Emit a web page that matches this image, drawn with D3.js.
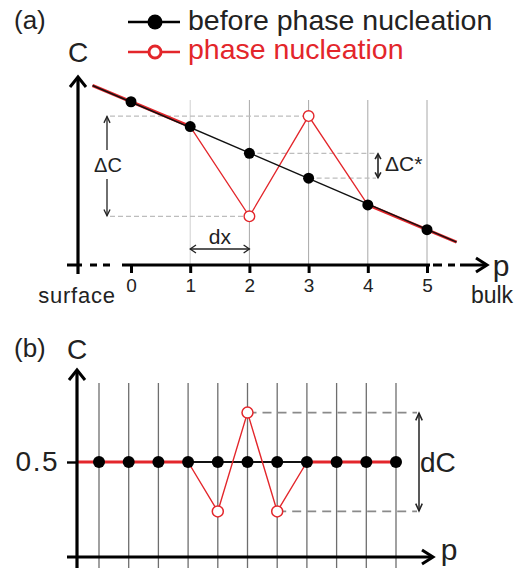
<!DOCTYPE html>
<html lang="en">
<head>
  <meta charset="utf-8" />
  <title>Phase nucleation sketch</title>
  <script type="text/javascript" src="https://cdn.jsdelivr.net/npm/d3@7"></script>
  <style type="text/css">
body { margin: 0; background: white; }
text { font-family: "Liberation Sans", Arial, sans-serif; fill: #222; }
  </style>
</head>
<body>

<script type="text/javascript">

// panel (a): concentration profile from surface to bulk
var pA = [0, 1, 2, 3, 4, 5];
var beforeA = [0.86, 0.73, 0.59, 0.46, 0.32, 0.19];
var lineP = [-0.65, 5.5];          // extent of the straight profile
var lineA = [0.945, 0.125];
var nucP = [-0.65, 1, 2, 3, 4, 5.5];
var nucA = [0.945, 0.73, 0.26, 0.785, 0.32, 0.125];
var openP = [2, 3];                // red open markers
var openA = [0.26, 0.785];

// panel (b): flat profile with one fluctuation
var pB = [0, 1, 2, 3, 4, 5, 6, 7, 8, 9, 10];
var beforeB = [0.5, 0.5, 0.5, 0.5, 0.5, 0.5, 0.5, 0.5, 0.5, 0.5, 0.5];
var nucB = [0.5, 0.5, 0.5, 0.5, 0.24, 0.76, 0.24, 0.5, 0.5, 0.5, 0.5];
var lineB = [-0.74, 10];
var tickB = [0.5];

var legendLabels = ["before phase nucleation", "phase nucleation"];

var w = 523, h = 574;
var red = "#e3262b";

var svg = d3.select("body").append("svg")
    .attr("width", w)
    .attr("height", h);

var xA = d3.scaleLinear().domain([0, 5]).range([131, 427]);
var yA = d3.scaleLinear().domain([0, 1]).range([266, 75]);
var xB = d3.scaleLinear().domain([0, 10]).range([99, 396]);
var yB = d3.scaleLinear().domain([0, 1]).range([557, 367]);

var line = d3.line();

// helper: straight line with open chevron heads
function arrow(g, x1, y1, x2, y2, opt) {
  opt = opt || {};
  var s = opt.size || 6, sw = opt.width || 1.4, col = opt.color || "#222";
  g.append("line").attr("x1", x1).attr("y1", y1).attr("x2", x2).attr("y2", y2)
      .attr("stroke", col).attr("stroke-width", sw);
  var heads = opt.both ? [[x2, y2, x1, y1], [x1, y1, x2, y2]] : [[x1, y1, x2, y2]];
  heads.forEach(function(a) {
    var ang = Math.atan2(a[3] - a[1], a[2] - a[0]);
    var k = opt.spread || 0.75;
    var p1 = [a[2] - s * Math.cos(ang - k), a[3] - s * Math.sin(ang - k)];
    var p2 = [a[2] - s * Math.cos(ang + k), a[3] - s * Math.sin(ang + k)];
    g.append("path").attr("d", line([p1, [a[2], a[3]], p2]))
        .attr("fill", "none").attr("stroke", col).attr("stroke-width", sw)
        .attr("stroke-linejoin", "miter");
  });
}

// ---------- panel (a) ----------
var ga = svg.append("g");

ga.selectAll("line.grid").data(pA.slice(1)).enter().append("line")
    .attr("class", "grid")
    .attr("x1", function(d) { return xA(d); }).attr("x2", function(d) { return xA(d); })
    .attr("y1", 100).attr("y2", 265)
    .attr("stroke", function(d) { return d === 1 ? "#d0d0d0" : "#a8a8a8"; })
    .attr("stroke-width", 1);

// dashed guides
var dashA = { stroke: "#bdbdbd", dash: "5,3" };
[[110, xA(3), yA(openA[1])], [110, xA(2), yA(openA[0])],
 [xA(2), 376, yA(beforeA[2])], [xA(3), 376, yA(beforeA[3])]].forEach(function(d) {
  ga.append("line").attr("x1", d[0]).attr("x2", d[1]).attr("y1", d[2]).attr("y2", d[2])
      .attr("stroke", dashA.stroke).attr("stroke-width", 1.2)
      .attr("stroke-dasharray", dashA.dash);
});

// red profile: thick where it follows the straight line, thin in the zigzag
var nucPts = nucP.map(function(p, i) { return [xA(p), yA(nucA[i])]; });
ga.append("path").attr("d", line(nucPts.slice(0, 2)))
    .attr("fill", "none").attr("stroke", red).attr("stroke-width", 3.2);
ga.append("path").attr("d", line(nucPts.slice(4)))
    .attr("fill", "none").attr("stroke", red).attr("stroke-width", 3.2);
ga.append("path").attr("d", line(nucPts.slice(1, 5)))
    .attr("fill", "none").attr("stroke", red).attr("stroke-width", 1.3);

ga.append("path")
    .attr("d", line(lineP.map(function(p, i) { return [xA(p), yA(lineA[i])]; })))
    .attr("fill", "none").attr("stroke", "#111").attr("stroke-width", 1.4);

ga.selectAll("circle.dot").data(pA).enter().append("circle")
    .attr("class", "dot")
    .attr("cx", function(d) { return xA(d); })
    .attr("cy", function(d, i) { return yA(beforeA[i]); })
    .attr("r", 5.5).attr("fill", "#000");

ga.selectAll("circle.open").data(openP).enter().append("circle")
    .attr("class", "open")
    .attr("cx", function(d) { return xA(d); })
    .attr("cy", function(d, i) { return yA(openA[i]); })
    .attr("r", 5.3).attr("fill", "white").attr("stroke", red).attr("stroke-width", 1.4);

// annotations
arrow(ga, 107, 150, 107, yA(openA[1]) + 0.5, { size: 7, width: 1.3, spread: 0.45 });
arrow(ga, 107, 179, 107, yA(openA[0]) - 0.5, { size: 7, width: 1.3, spread: 0.45 });
ga.append("text").attr("x", 108).attr("y", 172).attr("text-anchor", "middle")
    .attr("font-size", 20).text("\u0394C");

arrow(ga, 378, yA(beforeA[3]) - 0.5, 378, yA(beforeA[2]) + 0.5,
    { size: 6, width: 1.6, spread: 0.5, both: true });
ga.append("text").attr("x", 385).attr("y", 171).attr("font-size", 21).text("\u0394C*");

arrow(ga, xA(1), 249, xA(2), 249, { size: 7, width: 1.3, spread: 0.6, both: true });
ga.append("text").attr("x", (xA(1) + xA(2)) / 2).attr("y", 244).attr("text-anchor", "middle")
    .attr("font-size", 21).text("dx");

// axes
ga.append("line").attr("x1", 78).attr("x2", 78).attr("y1", 274).attr("y2", 77)
    .attr("stroke", "#000").attr("stroke-width", 3.2);
ga.append("path").attr("d", line([[70, 87], [78, 77], [86, 87]]))
    .attr("fill", "none").attr("stroke", "#000").attr("stroke-width", 3);

ga.append("line").attr("x1", 67).attr("x2", 122).attr("y1", 265).attr("y2", 265)
    .attr("stroke", "#000").attr("stroke-width", 3)
    .attr("stroke-dasharray", "15,8,7,6,7,12");
ga.append("line").attr("x1", 122).attr("x2", 430).attr("y1", 265).attr("y2", 265)
    .attr("stroke", "#000").attr("stroke-width", 3);
ga.append("line").attr("x1", 433).attr("x2", 486).attr("y1", 265).attr("y2", 265)
    .attr("stroke", "#000").attr("stroke-width", 3)
    .attr("stroke-dasharray", "9,6,7,5,40");
ga.append("path").attr("d", line([[476, 258], [487, 265], [476, 272]]))
    .attr("fill", "none").attr("stroke", "#000").attr("stroke-width", 3);

var axA = ga.append("g").attr("transform", "translate(0,265)")
    .call(d3.axisBottom(xA).tickValues(pA).tickSize(8).tickPadding(6).tickFormat(d3.format("d")));
axA.select(".domain").remove();
axA.selectAll(".tick line").attr("stroke", "#000").attr("stroke-width", 3);
axA.selectAll(".tick text").attr("font-size", 19).attr("fill", "#222")
    .style("font-family", "Liberation Sans, Arial, sans-serif");

ga.append("text").attr("x", 77).attr("y", 303).attr("text-anchor", "middle")
    .attr("font-size", 22).attr("letter-spacing", 0.8).text("surface");
ga.append("text").attr("x", 492).attr("y", 303).attr("text-anchor", "middle")
    .attr("font-size", 23).text("bulk");
ga.append("text").attr("x", 501).attr("y", 276).attr("text-anchor", "middle")
    .attr("font-size", 30).text("p");
ga.append("text").attr("x", 78).attr("y", 62).attr("text-anchor", "middle")
    .attr("font-size", 28).text("C");
ga.append("text").attr("x", 14).attr("y", 29).attr("font-size", 26).text("(a)");

// legend
var lg = svg.append("g");
legendLabels.forEach(function(lab, i) {
  var y = 22 + i * 30, col = i === 0 ? "#000" : red;
  lg.append("line").attr("x1", 128).attr("x2", 180).attr("y1", y).attr("y2", y)
      .attr("stroke", col).attr("stroke-width", 2.4);
  if (i === 0) {
    lg.append("circle").attr("cx", 155).attr("cy", y).attr("r", 7.5).attr("fill", "#000");
  } else {
    lg.append("circle").attr("cx", 155).attr("cy", y).attr("r", 6)
        .attr("fill", "white").attr("stroke", col).attr("stroke-width", 3);
  }
  lg.append("text").attr("x", 188).attr("y", y + 8 - i * 1).attr("font-size", 28.5)
      .style("fill", i === 0 ? "#222" : red).text(lab);
});

// ---------- panel (b) ----------
var gb = svg.append("g");

gb.selectAll("line.grid").data(pB).enter().append("line")
    .attr("class", "grid")
    .attr("x1", function(d) { return xB(d); }).attr("x2", function(d) { return xB(d); })
    .attr("y1", 383).attr("y2", 568)
    .attr("stroke", "#6e6e6e").attr("stroke-width", 1.3);

var dashB = [[xB(5), 417, yB(nucB[5])], [xB(6), 417, yB(nucB[6])]];
dashB.forEach(function(d) {
  gb.append("line").attr("x1", d[0]).attr("x2", d[1]).attr("y1", d[2]).attr("y2", d[2])
      .attr("stroke", "#8a8a8a").attr("stroke-width", 1.6)
      .attr("stroke-dasharray", "9,6");
});

gb.append("path")
    .attr("d", line(lineB.map(function(p) { return [xB(p), yB(beforeB[0])]; })))
    .attr("fill", "none").attr("stroke", "#111").attr("stroke-width", 1.8);

var nucBPts = pB.map(function(p, i) { return [xB(p), yB(nucB[i])]; });
gb.append("path").attr("d", line([[xB(lineB[0]), yB(nucB[0])]].concat(nucBPts.slice(0, 4))))
    .attr("fill", "none").attr("stroke", red).attr("stroke-width", 2.8);
gb.append("path").attr("d", line(nucBPts.slice(7)))
    .attr("fill", "none").attr("stroke", red).attr("stroke-width", 2.8);
gb.append("path").attr("d", line(nucBPts.slice(3, 8)))
    .attr("fill", "none").attr("stroke", red).attr("stroke-width", 1.4);

gb.selectAll("circle.dot").data(pB).enter().append("circle")
    .attr("class", "dot")
    .attr("cx", function(d) { return xB(d); })
    .attr("cy", function(d, i) { return yB(beforeB[i]); })
    .attr("r", 6).attr("fill", "#000");

gb.selectAll("circle.open").data(pB.filter(function(d, i) { return nucB[i] !== beforeB[i]; }))
  .enter().append("circle")
    .attr("class", "open")
    .attr("cx", function(d) { return xB(d); })
    .attr("cy", function(d) { return yB(nucB[d]); })
    .attr("r", 5.5).attr("fill", "white").attr("stroke", red).attr("stroke-width", 1.5);

arrow(gb, 419, yB(nucB[6]) - 0.5, 419, yB(nucB[5]) + 0.5,
    { size: 8, width: 1.5, spread: 0.42, both: true });
gb.append("text").attr("x", 420).attr("y", 472).attr("font-size", 28).text("dC");

// axes (b)
gb.append("line").attr("x1", 77).attr("x2", 77).attr("y1", 568).attr("y2", 370)
    .attr("stroke", "#000").attr("stroke-width", 3.2);
gb.append("path").attr("d", line([[69, 380], [77, 370], [85, 380]]))
    .attr("fill", "none").attr("stroke", "#000").attr("stroke-width", 3);
gb.append("line").attr("x1", 67).attr("x2", 432).attr("y1", 557).attr("y2", 557)
    .attr("stroke", "#000").attr("stroke-width", 3);
gb.append("path").attr("d", line([[422, 550], [433, 557], [422, 564]]))
    .attr("fill", "none").attr("stroke", "#000").attr("stroke-width", 3);

var ayB = gb.append("g").attr("transform", "translate(77,0)")
    .call(d3.axisLeft(yB).tickValues(tickB).tickSize(10).tickPadding(8).tickFormat(d3.format(".1f")));
ayB.select(".domain").remove();
ayB.selectAll(".tick line").attr("stroke", "#000").attr("stroke-width", 2.4);
ayB.selectAll(".tick text").attr("font-size", 28).attr("fill", "#222").attr("letter-spacing", 1.5)
    .style("font-family", "Liberation Sans, Arial, sans-serif");

gb.append("text").attr("x", 449).attr("y", 560).attr("text-anchor", "middle")
    .attr("font-size", 30).text("p");
gb.append("text").attr("x", 77).attr("y", 359).attr("text-anchor", "middle")
    .attr("font-size", 28).text("C");
gb.append("text").attr("x", 14).attr("y", 357).attr("font-size", 26).text("(b)");

</script>

</body>
</html>
